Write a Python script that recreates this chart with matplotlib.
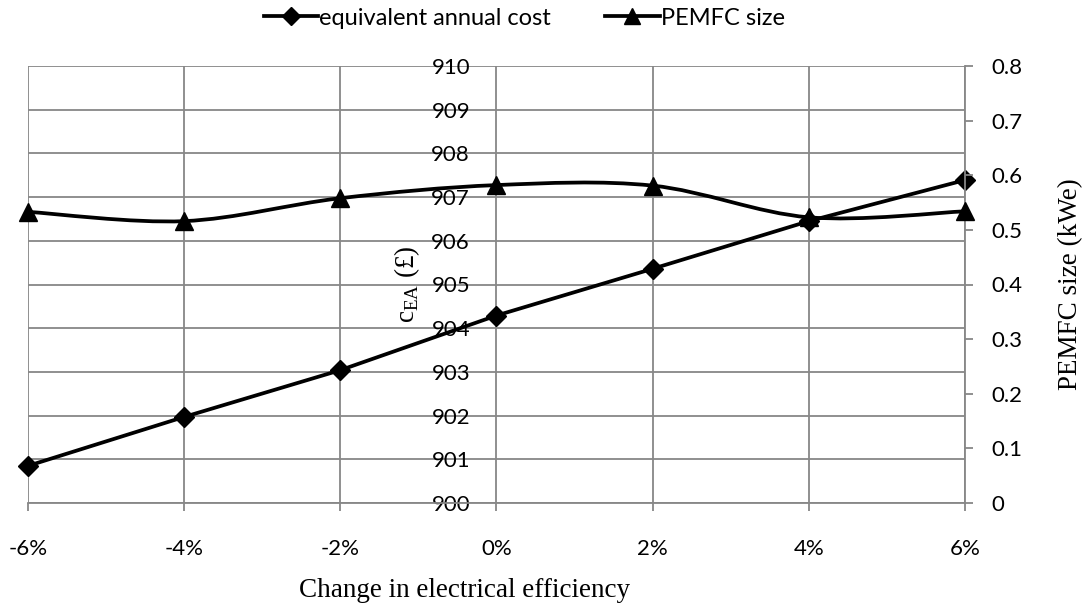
import matplotlib
matplotlib.use("Agg")
import matplotlib.pyplot as plt
import numpy as np
from matplotlib.path import Path
from matplotlib.patches import PathPatch
from matplotlib.lines import Line2D

# values
change = [-6, -4, -2, 0, 2, 4, 6]          # change in electrical efficiency (%)
xtick_labels = ["-6%", "-4%", "-2%", "0%", "2%", "4%", "6%"]
cost = [900.85, 901.97, 903.04, 904.29, 905.36, 906.45, 907.39]   # c_EA (GBP)
pemfc = [0.533, 0.516, 0.558, 0.582, 0.581, 0.523, 0.534]         # kWe
cost_ticks = list(range(900, 911))
size_ticks = [0, 0.1, 0.2, 0.3, 0.4, 0.5, 0.6, 0.7, 0.8]
size_labels = ["0", "0.1", "0.2", "0.3", "0.4", "0.5", "0.6", "0.7", "0.8"]

grid_c = "#878787"
tick_font = "Lato"
label_font = "Liberation Serif"
lw = 2.7
tick_size = 16
label_size = 19.5


def smooth_path(x, y):
    # excel style smoothed line: catmull-rom segments as cubic beziers
    pts = np.column_stack([x, y]).astype(float)
    n = len(pts)
    verts = [pts[0]]
    codes = [Path.MOVETO]
    for i in range(n - 1):
        p0 = pts[max(i - 1, 0)]
        p1 = pts[i]
        p2 = pts[i + 1]
        p3 = pts[min(i + 2, n - 1)]
        verts += [p1 + (p2 - p0) / 6, p2 - (p3 - p1) / 6, p2]
        codes += [Path.CURVE4] * 3
    return Path(verts, codes)


fig = plt.figure(figsize=(10.83, 6.05), dpi=100)
ax = fig.add_axes([28 / 1083, 1 - 503 / 605, (965 - 28) / 1083, (503 - 66) / 605])

ax.set_xlim(-6, 6)
ax.set_ylim(900, 910)
ax.set_xticks(change, xtick_labels)
ax.set_yticks(cost_ticks)
ax.grid(True, color=grid_c, lw=1.3)
ax.set_axisbelow(True)
for s in ["top", "right"]:
    ax.spines[s].set_visible(False)
ax.spines["left"].set_position(("data", 0))
ax.spines["left"].set_visible(False)
ax.spines["bottom"].set_color(grid_c)
ax.spines["bottom"].set_linewidth(1.3)
ax.tick_params(axis="x", length=6, width=1.3, color=grid_c, pad=20)
ax.tick_params(axis="y", length=0, pad=19)
for t in ax.get_xticklabels() + ax.get_yticklabels():
    t.set_fontfamily(tick_font)
    t.set_fontsize(tick_size)

ax.plot(change, cost, color="k", lw=lw, marker="D", ms=10, zorder=3,
        clip_on=False)

ax.set_xlabel("Change in electrical efficiency", fontfamily=label_font,
              fontsize=label_size)
ax.xaxis.set_label_coords(0.466, -0.172)
ax.set_ylabel(r"c$_\mathregular{EA}$ (£)", fontfamily=label_font,
              fontsize=label_size)
ax.yaxis.set_label_coords(0.42, 0.5)

ax2 = ax.twinx()
ax2.set_ylim(0, 0.8)
ax2.set_yticks(size_ticks, size_labels)
for s in ["top", "left", "bottom"]:
    ax2.spines[s].set_visible(False)
ax2.spines["right"].set_color(grid_c)
ax2.spines["right"].set_linewidth(1.3)
ax2.tick_params(axis="y", length=6, width=1.3, color=grid_c, pad=13)
for t in ax2.get_yticklabels():
    t.set_fontfamily(tick_font)
    t.set_fontsize(tick_size)

ax2.add_patch(PathPatch(smooth_path(change, pemfc), fill=False, ec="k", lw=lw,
                        zorder=3, clip_on=False))
ax2.plot(change, pemfc, ls="none", color="k", marker="^", ms=13, zorder=4,
         clip_on=False)

ax2.set_ylabel("PEMFC size (kWe)", fontfamily=label_font, fontsize=label_size)
ax2.yaxis.set_label_coords(1.099, 0.5)

handles = [
    Line2D([], [], color="k", lw=lw, marker="D", ms=9),
    Line2D([], [], color="k", lw=lw, marker="^", ms=12),
]
fig.legend(handles, ["equivalent annual cost", "PEMFC size"], loc="center",
           bbox_to_anchor=(0.484, 0.97), ncol=2, frameon=False,
           prop={"family": tick_font, "size": 17}, handlelength=2.3,
           handletextpad=0.05, columnspacing=2.3)

fig.savefig("out.png", dpi=100)
